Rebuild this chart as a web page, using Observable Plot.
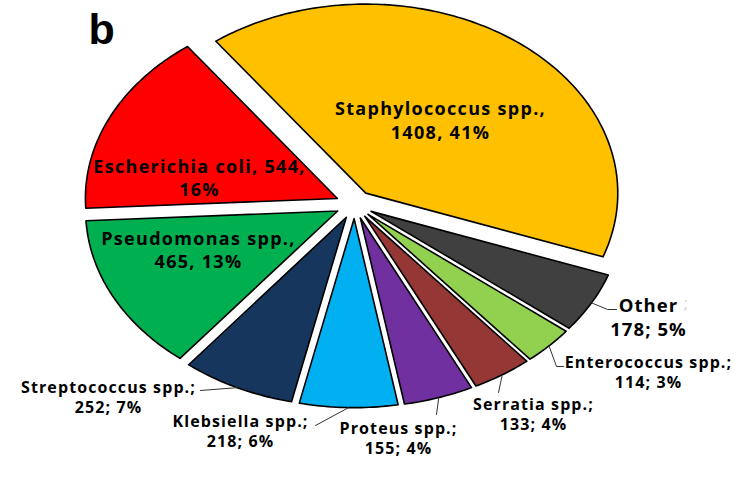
<!DOCTYPE html>
<html><head><meta charset="utf-8">
<script src="https://cdn.jsdelivr.net/npm/d3@7"></script>
<script src="https://cdn.jsdelivr.net/npm/@observablehq/plot@0.6"></script>
<style>body{margin:0;background:#fff} .lblin, .lblin text{letter-spacing:1.3px} .lblout, .lblout text{letter-spacing:1.1px}</style>
</head><body><div id="chart"></div>
<script>
// ---- data (clockwise order, starting with Staphylococcus) ----
const names = ["Staphylococcus spp.", "Other", "Enterococcus spp.", "Serratia spp.", "Proteus spp.", "Klebsiella spp.", "Streptococcus spp.", "Pseudomonas spp.", "Escherichia coli"];
const counts = [1408, 178, 114, 133, 155, 218, 252, 465, 544];
const percents = [41, 5, 3, 4, 4, 6, 7, 13, 16];
const colors = ["#FFC000", "#404040", "#92D050", "#953735", "#7030A0", "#00B0F0", "#17365D", "#00B050", "#FF0000"];
const labels = [
  "Staphylococcus spp.,\n1408, 41%",
  "Other\n178; 5%",
  "Enterococcus spp.;\n114; 3%",
  "Serratia spp.;\n133; 4%",
  "Proteus spp.;\n155; 4%",
  "Klebsiella spp.;\n218; 6%",
  "Streptococcus spp.;\n252; 7%",
  "Pseudomonas spp.,\n465, 13%",
  "Escherichia coli, 544,\n16%"
];

// ---- layout ----
const W = 748, H = 484;
const cx = 354, cy = 204, rx = 252, ry = 189, explode = 0.075;
const startDeg = -36.5;
const a0 = startDeg * Math.PI / 180;
const labelLayout = [
  {x: 440, y: 119, size: 18, lh: 1.33, cls: "lblin"},
  {x: 648, y: 316, size: 18.5, lh: 1.3, cls: "lblout", leader: [[607, 309], [616, 309]]},
  {x: 648, y: 371, size: 16, lh: 1.25, cls: "lblout", leader: [[556, 366], [563, 366]]},
  {x: 533, y: 413, size: 16, lh: 1.25, cls: "lblout", leader: [[498, 392]]},
  {x: 398, y: 437, size: 16, lh: 1.25, cls: "lblout", leader: [[436, 414]]},
  {x: 240, y: 430, size: 16, lh: 1.25, cls: "lblout", leader: [[315, 425]]},
  {x: 108, y: 396, size: 16, lh: 1.25, cls: "lblout", leader: [[200, 390]]},
  {x: 198, y: 249, size: 18, lh: 1.28, cls: "lblin"},
  {x: 199, y: 177, size: 18, lh: 1.28, cls: "lblin"}
];

const pie = d3.pie().sort(null).startAngle(a0).endAngle(a0 + 2 * Math.PI)(counts);
const slices = pie.map((p, i) => {
  const mid = (p.startAngle + p.endAngle) / 2;
  const ox = explode * rx * Math.sin(mid), oy = -explode * ry * Math.cos(mid);
  return {i, name: names[i], a0: p.startAngle, a1: p.endAngle, mid, ox, oy};
});
const P = (s, a, r) => [cx + s.ox + r * rx * Math.sin(a), cy + s.oy - r * ry * Math.cos(a)];

const polys = [];
for (const s of slices) {
  const tip = P(s, 0, 0);
  polys.push({name: s.name, x: tip[0], y: tip[1]});
  const n = Math.max(8, Math.ceil((s.a1 - s.a0) * 60));
  for (let k = 0; k <= n; k++) {
    const a = s.a0 + (s.a1 - s.a0) * k / n;
    const q = P(s, a, 1);
    polys.push({name: s.name, x: q[0], y: q[1]});
  }
  polys.push({name: s.name, x: tip[0], y: tip[1]});
}

const leaders = [];
slices.forEach((s, i) => {
  const L = labelLayout[i].leader;
  if (!L) return;
  const st = P(s, s.mid, 1.0);
  leaders.push({id: i, x: st[0], y: st[1]});
  for (const q of L) leaders.push({id: i, x: q[0], y: q[1]});
});

const textMarks = labels.map((t, i) => Plot.text([labelLayout[i]], {
  x: "x", y: "y", text: () => t, className: labelLayout[i].cls,
  fontSize: labelLayout[i].size, lineHeight: labelLayout[i].lh,
  fontWeight: "bold", fontFamily: "'Open Sans', Lato, sans-serif",
  fill: "#000", textAnchor: "middle", lineAnchor: "middle"
}));

const chart = Plot.plot({
  width: W, height: H,
  margin: 0,
  x: {domain: [0, W], range: [0, W], axis: null},
  y: {domain: [0, H], range: [0, H], axis: null},
  color: {domain: names, range: colors},
  marks: [
    Plot.line(polys, {x: "x", y: "y", z: "name", fill: "name", stroke: "#000", strokeWidth: 1.6, strokeLinejoin: "round", curve: "linear"}),
    Plot.line(leaders, {x: "x", y: "y", z: "id", stroke: "#333", strokeWidth: 1}),
    ...textMarks,
    Plot.text([{x: 683, y: 303}], {x: "x", y: "y", text: () => ";", fontSize: 17, fill: "#d8d8d8", fontFamily: "'Open Sans', sans-serif", textAnchor: "start"}),
    Plot.text([{x: 88, y: 43}], {x: "x", y: "y", text: () => "b", fontSize: 43, fontWeight: "bold", fontFamily: "'Liberation Sans', Arial, sans-serif", textAnchor: "start", lineAnchor: "bottom", fill: "#000"})
  ]
});
document.getElementById("chart").appendChild(chart);
</script>
</body></html>
